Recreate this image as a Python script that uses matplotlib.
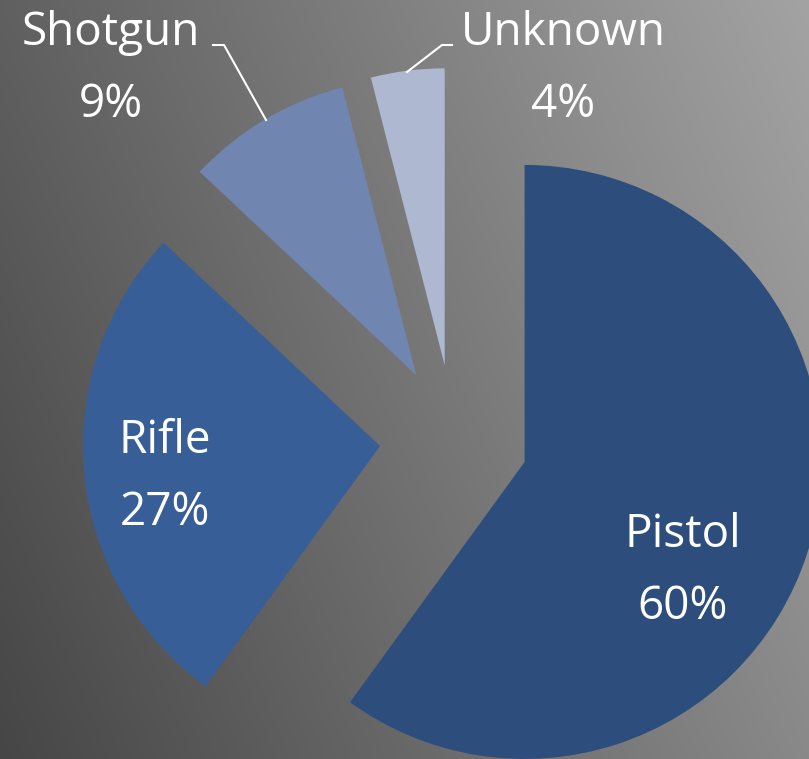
import numpy as np
import matplotlib
matplotlib.use("Agg")
import matplotlib.pyplot as plt

categories = ["Pistol", "Rifle", "Shotgun", "Unknown"]
values = [60, 27, 9, 4]
colors = ["#2D4D7C", "#375E96", "#7086B1", "#AEB8D0"]

W, H = 809, 759
fig = plt.figure(figsize=(W / 100, H / 100), dpi=100)

# background gradient (dark bottom-left -> light top-right)
bg = fig.add_axes([0, 0, 1, 1])
bg.set_axis_off()
xx, yy = np.meshgrid(np.linspace(0, 1, 400), np.linspace(0, 1, 400))
g = (70 + 67 * xx + 26 * yy) / 255.0
img = np.dstack([g, g, g])
bg.imshow(img, origin="lower", extent=[0, 1, 0, 1], aspect="auto")
bg.set_xlim(0, 1)
bg.set_ylim(0, 1)

# pie axes mapped so that 1 unit = R pixels
R = 297.0
cx, cy = 454.0, 439.0  # pixel centre (y from top)
ax = fig.add_axes([0, 0, 1, 1])
ax.set_axis_off()
ax.patch.set_alpha(0)
ax.pie(values, colors=colors, startangle=90, counterclock=False,
       explode=[0.25] * 4, radius=1.0, center=(0, 0),
       wedgeprops=dict(linewidth=0))
ax.set_xlim(-cx / R, (W - cx) / R)
ax.set_ylim(-(H - cy) / R, cy / R)
ax.set_aspect("auto")


def px(x, y):
    return ((x - cx) / R, (cy - y) / R)


font = dict(family=["Open Sans", "DejaVu Sans"], color="white", fontsize=33,
            fontweight="normal", ha="center", va="baseline")
labels_pos = {"Pistol": (683, 547), "Rifle": (165, 453),
              "Shotgun": (111, 45), "Unknown": (563, 45)}
gap = 72
for c, v in zip(categories, values):
    x, y = labels_pos[c]
    ax.text(*px(x, y), c, **font)
    ax.text(*px(x, y + gap), f"{v}%", **font)

# leader lines
sx = [213, 224, 266]
sy = [45, 45, 120]
ax.plot(*zip(*[px(a, b) for a, b in zip(sx, sy)]), color="white", lw=1.5)
ux = [452, 442, 407]
uy = [45, 45, 72]
ax.plot(*zip(*[px(a, b) for a, b in zip(ux, uy)]), color="white", lw=1.5)

fig.savefig("out.png", dpi=100)
